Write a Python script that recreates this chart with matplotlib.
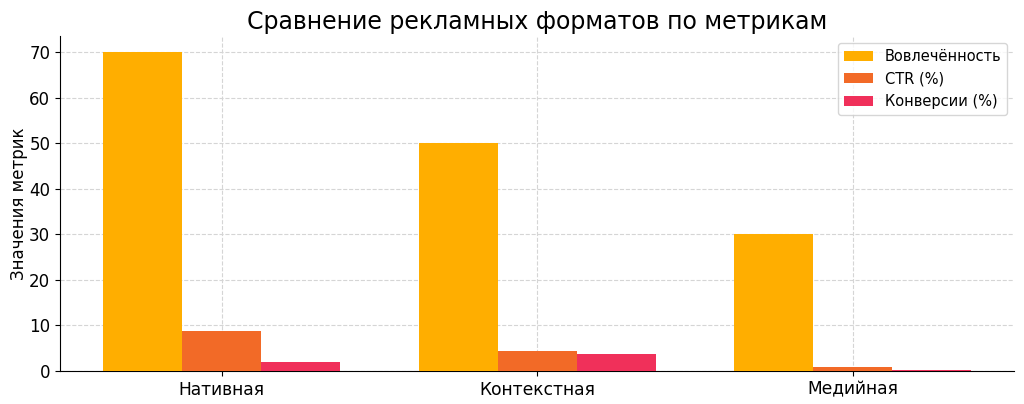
import matplotlib
matplotlib.use('Agg')
from matplotlib import pyplot as plt
import numpy as np

formats = ["Нативная", "Контекстная", "Медийная"]
engagement = [70, 50, 30]
ctr = [8.7, 4.4, 0.9]
conversions = [2.0, 3.7, 0.3]

fig = plt.figure(figsize=(10.24, 4.04), dpi=100)
ax = fig.add_axes([0.0586, 0.0817, 0.932, 0.829])

x = np.arange(len(formats))
w = 0.25
ax.bar(x - w, engagement, width=w, color='#FFAE00', label='Вовлечённость', zorder=3)
ax.bar(x, ctr, width=w, color='#F26A27', label='CTR (%)', zorder=3)
ax.bar(x + w, conversions, width=w, color='#F0305A', label='Конверсии (%)', zorder=3)

ax.set_title('Сравнение рекламных форматов по метрикам', fontsize=17, pad=5)
ax.set_ylabel('Значения метрик', fontsize=12, labelpad=1)
ax.set_xticks(x)
ax.set_xticklabels(formats, fontsize=12.3)
ax.tick_params(axis='y', labelsize=12)
ax.grid(True, linestyle='--', color='#d5d5d5', linewidth=0.8, zorder=0)
ax.spines['top'].set_visible(False)
ax.spines['right'].set_visible(False)
ax.legend(fontsize=10.5, loc='upper right')

fig.savefig('out.png', dpi=100)
